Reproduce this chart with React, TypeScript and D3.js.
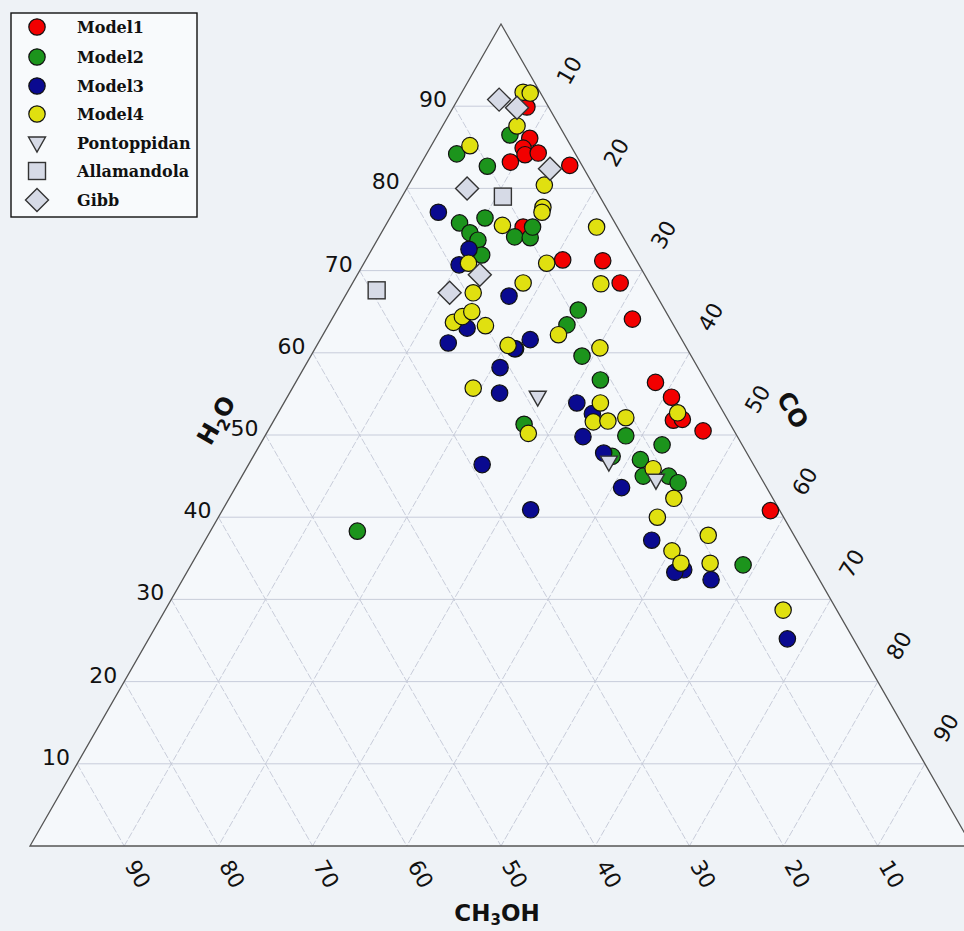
import React from 'react';
import * as d3 from 'd3';

// ternary values: [H2O, CO] in percent, CH3OH = 100 - H2O - CO
const model1 = [
  [89.9, 7.8], [86.1, 10.0], [84.9, 9.9], [84.1, 10.5], [84.3, 11.8], [83.2, 9.4],
  [82.8, 15.9], [75.3, 14.7], [71.3, 20.9], [71.2, 25.2], [68.5, 28.4], [64.1, 31.9],
  [56.4, 38.2], [54.6, 40.8], [51.8, 42.4], [51.9, 43.3], [50.5, 46.2], [40.8, 58.2],
];
const model2 = [
  [84.2, 3.2], [82.7, 7.2], [86.5, 7.7], [75.8, 7.7], [76.4, 10.1], [74.6, 9.4],
  [73.7, 10.7], [71.9, 12.0], [74.1, 14.4], [74.0, 16.1], [75.3, 15.7], [60.5, 21.3],
  [65.2, 25.6], [63.4, 25.3], [59.6, 28.8], [56.7, 32.2], [51.3, 26.8], [49.9, 38.3],
  [48.8, 42.7], [47.0, 41.3], [45.0, 42.6], [45.0, 45.3], [44.2, 46.7], [34.2, 58.6],
  [38.3, 15.6], [47.4, 38.1],
];
const model3 = [
  [77.1, 4.8], [72.6, 10.3], [70.7, 10.2], [63.0, 14.9], [61.2, 13.8], [66.9, 17.4],
  [61.6, 22.3], [60.5, 21.2], [58.2, 20.8], [55.1, 22.3], [46.4, 24.8], [40.9, 32.7],
  [53.9, 31.1], [52.6, 33.4], [49.8, 33.8], [47.8, 37.0], [43.6, 41.0], [37.2, 47.4],
  [33.6, 52.6], [33.3, 51.8], [32.4, 56.1], [25.2, 67.8],
];
const model4 = [
  [91.7, 6.5], [91.6, 7.3], [87.6, 7.9], [85.2, 4.1], [80.4, 14.4], [77.7, 15.6],
  [77.1, 15.8], [75.5, 12.4], [75.3, 22.5], [70.9, 19.4], [70.9, 11.1], [68.5, 18.1],
  [68.4, 26.4], [67.3, 13.4], [63.7, 13.1], [64.4, 13.7], [65.0, 14.4], [63.3, 16.7],
  [60.9, 20.3], [62.2, 25.0], [60.6, 30.2], [55.7, 19.2], [53.9, 33.6], [51.6, 34.0],
  [51.7, 35.5], [52.1, 37.2], [50.2, 27.8], [45.9, 43.2], [42.3, 47.2], [40.0, 46.6],
  [37.8, 53.1], [35.9, 50.2], [34.4, 51.9], [34.4, 55.0], [28.7, 65.6], [52.7, 42.4],
];
const pontoppidan = [[54.6, 26.6], [46.7, 38.1], [44.5, 44.2]];
const allamandola = [[79.0, 10.7], [67.6, 3.0]];
const gibb = [[90.8, 4.4], [89.8, 6.8], [82.4, 14.0], [80.0, 6.4], [69.5, 13.0], [67.3, 10.9]];

const seriesNames = ['Model1', 'Model2', 'Model3', 'Model4', 'Pontoppidan', 'Allamandola', 'Gibb'];
const seriesData = [model1, model2, model3, model4, pontoppidan, allamandola, gibb];
const seriesShapes = ['circle', 'circle', 'circle', 'circle', 'tri', 'square', 'diamond'];
const seriesColors = ['#f20000', '#1c941c', '#0a0a90', '#e0e010', '#d6dae6', '#d6dae6', '#d6dae6'];

const tickValues = [10, 20, 30, 40, 50, 60, 70, 80, 90];

const W = 964;
const H = 931;
const xS = d3.scaleLinear().domain([0, 100]).range([30, 972]);
const yS = d3.scaleLinear().domain([0, 100]).range([846, 24]);
const pt = (h: number, co: number): [number, number] => [xS(co + h / 2), yS(h)];

const Marker = ({ shape, x, y, fill }: { shape: string; x: number; y: number; fill: string }) => {
  if (shape === 'circle') return <circle cx={x} cy={y} r={8.2} fill={fill} stroke="#111" strokeWidth={1.2} />;
  if (shape === 'square') return <rect x={x - 8.5} y={y - 8.5} width={17} height={17} fill={fill} stroke="#333" strokeWidth={1.4} />;
  if (shape === 'diamond')
    return <path d={`M${x},${y - 11.5}L${x + 11.5},${y}L${x},${y + 11.5}L${x - 11.5},${y}Z`} fill={fill} stroke="#333" strokeWidth={1.4} />;
  return <path d={`M${x - 8.5},${y - 6}L${x + 8.5},${y - 6}L${x},${y + 9}Z`} fill={fill} stroke="#333" strokeWidth={1.4} />;
};

const gridStroke = '#c3c7d6';

export default function App() {
  const outline = [pt(100, 0), pt(0, 0), pt(0, 100)];
  const legendRows = [27, 57, 86, 114, 143, 171, 200];

  return (
    <svg width={W} height={H} style={{ position: 'absolute', left: 0, top: 0, display: 'block' }}
      fontFamily="'DejaVu Sans', sans-serif">
      <rect width={W} height={H} fill="#eef2f6" />
      <path d={d3.line()(outline) + 'Z'} fill="#f5f8fb" />

      {/* grid */}
      {tickValues.map(v => {
        const a = pt(v, 0), b = pt(v, 100 - v);
        return <line key={'h' + v} x1={a[0]} y1={a[1]} x2={b[0]} y2={b[1]} stroke={gridStroke} strokeWidth={0.9} />;
      })}
      {tickValues.map(v => {
        const a = pt(100 - v, v), b = pt(0, v);
        return <line key={'c' + v} x1={a[0]} y1={a[1]} x2={b[0]} y2={b[1]} stroke={gridStroke} strokeWidth={0.9} strokeDasharray="7 2" />;
      })}
      {tickValues.map(v => {
        const a = pt(100 - v, 0), b = pt(0, 100 - v);
        return <line key={'m' + v} x1={a[0]} y1={a[1]} x2={b[0]} y2={b[1]} stroke={gridStroke} strokeWidth={0.9} strokeDasharray="7 2" />;
      })}
      <path d={d3.line()(outline) + 'Z'} fill="none" stroke="#555" strokeWidth={1.3} />

      {/* tick labels */}
      {tickValues.map(v => {
        const [x, y] = pt(v, 0);
        return <text key={'lh' + v} x={x - 7} y={y + 1} textAnchor="end" fontSize={22} fill="#111">{v}</text>;
      })}
      {tickValues.map(v => {
        const [x, y] = pt(100 - v, v);
        return (
          <text key={'lc' + v} transform={`translate(${x + 21},${y - 36}) rotate(-60)`} textAnchor="middle"
            dy="0.36em" fontSize={22} fill="#111">{v}</text>
        );
      })}
      {tickValues.map(v => {
        const [x, y] = pt(0, 100 - v);
        return (
          <text key={'lm' + v} transform={`translate(${x + 14},${y + 28}) rotate(60)`} textAnchor="middle"
            dy="0.36em" fontSize={22} fill="#111">{v}</text>
        );
      })}

      {/* axis titles */}
      <text transform="translate(216,420) rotate(-60)" textAnchor="middle" fontWeight="bold" fontSize={24} dy="0.36em" fill="#111">
        H<tspan fontSize={16} dy={6}>2</tspan><tspan dy={-6}>O</tspan>
      </text>
      <text transform="translate(793,410) rotate(60)" textAnchor="middle" fontWeight="bold" fontSize={24} dy="0.36em" fill="#111">CO</text>
      <text x={497} y={921} textAnchor="middle" fontWeight="bold" fontSize={23} fill="#111">
        CH<tspan fontSize={15} dy={4}>3</tspan><tspan dy={-4}>OH</tspan>
      </text>

      {/* points */}
      {seriesData.map((data, si) => (
        <g key={seriesNames[si]}>
          {data.map((d, i) => {
            const [x, y] = pt(d[0], d[1]);
            return <Marker key={i} shape={seriesShapes[si]} x={x} y={y} fill={seriesColors[si]} />;
          })}
        </g>
      ))}

      {/* legend */}
      <rect x={11} y={13} width={186} height={204} fill="#f8fafc" stroke="#111" strokeWidth={1.4} />
      {seriesNames.map((name, i) => (
        <g key={'lg' + name}>
          <Marker shape={seriesShapes[i]} x={37} y={legendRows[i]} fill={seriesColors[i]} />
          <text x={77} y={legendRows[i] + 5.5} fontFamily="'DejaVu Serif', serif" fontWeight="bold" fontSize={16} fill="#111">{name}</text>
        </g>
      ))}
    </svg>
  );
}
